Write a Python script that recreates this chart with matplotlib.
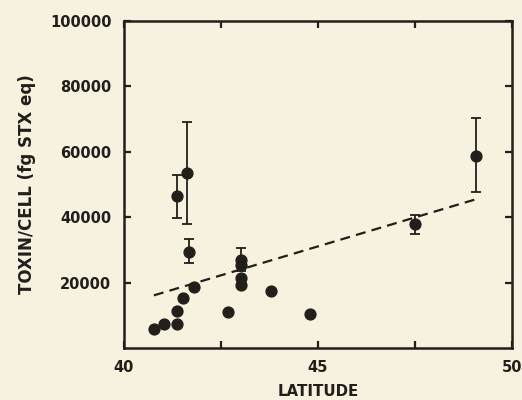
import matplotlib
matplotlib.use("Agg")
import matplotlib.pyplot as plt

# datos
lat = [40.77, 41.02, 41.37, 41.37, 41.51, 41.81, 42.69, 43.01, 43.01, 43.01, 43.78, 44.79]
tox = [5700, 7400, 7400, 11200, 15400, 18700, 10900, 25500, 21300, 19200, 17300, 10500]

# puntos con barra de error
lat_err = [41.37, 41.62, 41.68, 43.01, 47.50, 49.08]
tox_err = [46400, 53400, 29500, 27000, 38000, 58800]
err_low = [6500, 15400, 3500, 3500, 3100, 11200]
err_high = [6600, 15800, 3700, 3500, 2700, 11500]

# recta de regresion (extremos)
fit_lat = [40.77, 49.1]
fit_tox = [16100, 45600]

bg = "#f7f1df"
ink = "#221e1a"

fig = plt.figure(figsize=(5.22, 4.0), dpi=100, facecolor=bg)
ax = fig.add_axes([0.2375, 0.13, 0.7435, 0.8175], facecolor=bg)

ax.plot(fit_lat, fit_tox, color=ink, lw=1.6, dashes=(4.5, 2.8), zorder=2)
ax.errorbar(lat_err, tox_err, yerr=[err_low, err_high], fmt="o", color=ink,
            ms=7.8, elinewidth=1.3, capsize=3.3, capthick=1.3, zorder=3)
ax.plot(lat, tox, "o", color=ink, ms=7.8, zorder=3)

ax.set_xlim(40, 50)
ax.set_ylim(0, 100000)
ax.set_xticks([40, 42.5, 45, 47.5, 50])
ax.set_xticklabels(["40", "", "45", "", "50"])
ax.set_yticks([20000, 40000, 60000, 80000, 100000])
ax.set_yticklabels(["20000", "40000", "60000", "80000", "100000"])

ax.tick_params(direction="in", length=5, width=1.6, colors=ink, top=True, right=True,
               labelsize=10.5, pad=9)
for s in ax.spines.values():
    s.set_linewidth(1.8)
    s.set_color(ink)
for t in ax.get_xticklabels() + ax.get_yticklabels():
    t.set_fontweight("bold")

ax.set_xlabel("LATITUDE", fontsize=10.8, fontweight="bold", color=ink, labelpad=6)
ax.set_ylabel("TOXIN/CELL (fg STX eq)", fontsize=12, fontweight="bold", color=ink, labelpad=10)

fig.savefig("out.png", dpi=100, facecolor=bg)
